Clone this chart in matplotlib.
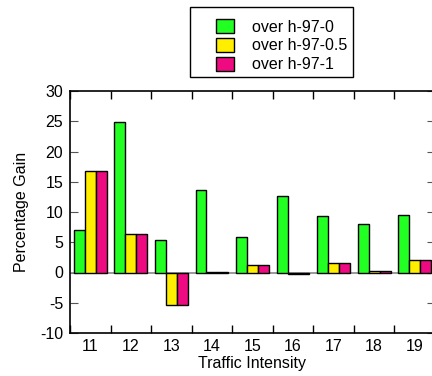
import numpy as np
import matplotlib.pyplot as plt
from matplotlib.patches import Patch, Rectangle

plt.rcParams['font.family'] = ['Liberation Sans', 'DejaVu Sans']
plt.rcParams['axes.unicode_minus'] = False

intensity = [11, 12, 13, 14, 15, 16, 17, 18, 19]
gain_h0 = [7.0, 24.9, 5.3, 13.6, 5.9, 12.6, 9.3, 8.0, 9.5]
gain_h05 = [16.7, 6.4, -5.4, 0.1, 1.2, -0.2, 1.6, 0.3, 2.1]
gain_h1 = [16.7, 6.4, -5.4, 0.1, 1.2, -0.2, 1.6, 0.3, 2.1]
labels = ['over h-97-0', 'over h-97-0.5', 'over h-97-1']
colors = ['#22ff22', '#ffee00', '#ee0a80']

W, H = 432, 376
fig = plt.figure(figsize=(W / 100, H / 100), dpi=100)
ax = fig.add_axes([70/W, 43/H, 365/W, 242/H])

x = np.array(intensity)
w = 0.27
for k, (vals, c) in enumerate(zip([gain_h0, gain_h05, gain_h1], colors)):
    ax.bar(x + (k - 1) * w, vals, width=w, color=c, edgecolor='black', linewidth=1.0, zorder=3)

ax.axhline(0, color='#888888', linewidth=1.2, zorder=2)

ax.set_xlim(10.5, 19.5)
ax.set_ylim(-10, 30)
ax.set_xticks(intensity)
ax.set_xticks(np.arange(10.5, 20, 1), minor=True)
ax.set_yticks(np.arange(-10, 31, 5))
ax.tick_params(axis='x', which='major', length=0, labelsize=11.5, pad=4)
ax.tick_params(axis='x', which='minor', direction='in', length=6, top=True, bottom=True, width=1)
ax.tick_params(axis='y', direction='in', length=6, right=True, labelsize=11.5, pad=5, color='#555555')
for s in ax.spines.values():
    s.set_linewidth(1.2)

ax.set_xlabel('Traffic Intensity', fontsize=11.5, labelpad=2)
ax.set_ylabel('Percentage Gain', fontsize=11.5, labelpad=8)

# legend box drawn separately so the inner padding can be wider on the left
fig.patches.append(Rectangle((190/W, 1 - 77/H), 163/W, 70/H, transform=fig.transFigure,
                             facecolor='white', edgecolor='black', linewidth=1.0))
handles = [Patch(facecolor=c, edgecolor='black') for c in colors]
leg = fig.legend(handles, labels, loc='upper left', bbox_to_anchor=(216/W, 1 - 19/H),
                 fontsize=11.5, frameon=False,
                 handlelength=1.1, handleheight=1.0, handletextpad=1.15,
                 labelspacing=0.2, borderpad=0, borderaxespad=0)

fig.savefig('out.png', dpi=100)
